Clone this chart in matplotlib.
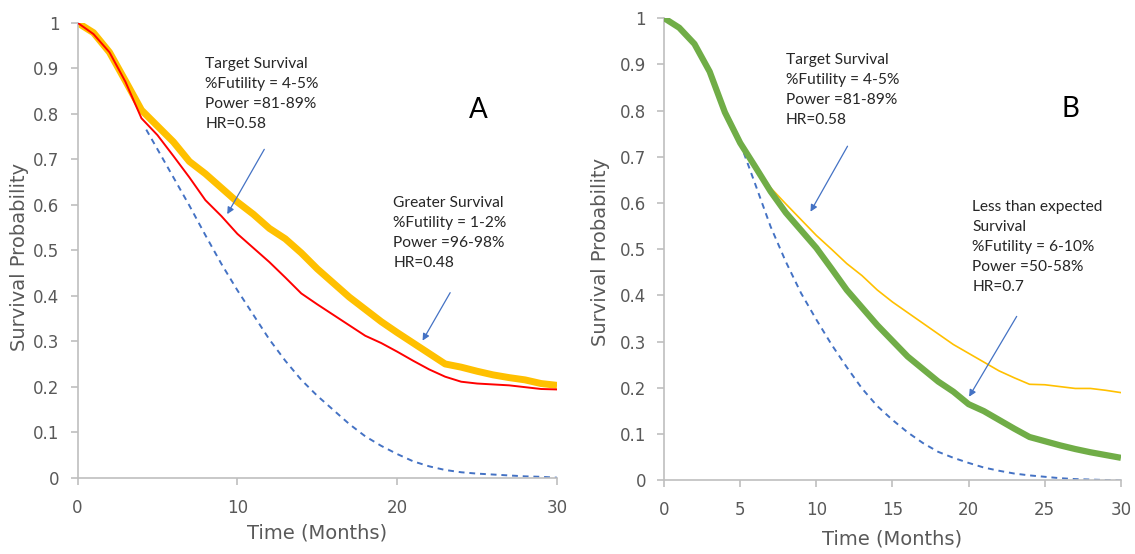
import numpy as np
import matplotlib.pyplot as plt

plt.rcParams['font.family'] = ['DejaVu Sans']

# ---- panel A data ----
t_a = np.arange(0, 31)
yellow_a = [1.0, 0.978, 0.935, 0.872, 0.808, 0.773, 0.738, 0.695, 0.668, 0.637,
            0.606, 0.579, 0.548, 0.525, 0.494, 0.459, 0.428, 0.397, 0.370, 0.343,
            0.319, 0.296, 0.273, 0.250, 0.243, 0.234, 0.226, 0.220, 0.215, 0.207, 0.203]
red_a = [1.0, 0.975, 0.935, 0.870, 0.790, 0.753, 0.707, 0.660, 0.610, 0.575,
         0.536, 0.505, 0.474, 0.440, 0.405, 0.381, 0.358, 0.335, 0.312, 0.296,
         0.277, 0.257, 0.238, 0.222, 0.211, 0.207, 0.205, 0.203, 0.199, 0.195, 0.194]
t_blue_a = [4.3] + list(range(5, 31))
blue_a = [0.765, 0.722, 0.660, 0.598, 0.533, 0.470, 0.412, 0.358, 0.304, 0.257,
          0.215, 0.180, 0.149, 0.118, 0.091, 0.070, 0.052, 0.036, 0.025, 0.017,
          0.012, 0.009, 0.007, 0.005, 0.003, 0.002, 0.0]

# ---- panel B data ----
t_b = np.arange(0, 31)
green_b = [1.0, 0.979, 0.944, 0.884, 0.796, 0.730, 0.678, 0.625, 0.579, 0.541,
           0.503, 0.458, 0.412, 0.374, 0.336, 0.302, 0.268, 0.241, 0.214, 0.192,
           0.165, 0.150, 0.131, 0.112, 0.094, 0.085, 0.076, 0.068, 0.061, 0.055, 0.049]
yellow_b = [1.0, 0.979, 0.944, 0.884, 0.796, 0.730, 0.680, 0.633, 0.598, 0.564,
            0.530, 0.500, 0.469, 0.443, 0.412, 0.386, 0.363, 0.340, 0.317, 0.294,
            0.275, 0.256, 0.237, 0.222, 0.208, 0.207, 0.203, 0.199, 0.199, 0.195, 0.190]
t_blue_b = list(range(5, 31))
blue_b = [0.730, 0.640, 0.549, 0.473, 0.405, 0.348, 0.294, 0.245, 0.199, 0.161,
          0.131, 0.104, 0.081, 0.062, 0.049, 0.038, 0.028, 0.021, 0.015, 0.011,
          0.008, 0.005, 0.003, 0.002, 0.001, 0.0]

y_ticks = [0, 0.1, 0.2, 0.3, 0.4, 0.5, 0.6, 0.7, 0.8, 0.9, 1]
y_ticklabels = ['0', '0.1', '0.2', '0.3', '0.4', '0.5', '0.6', '0.7', '0.8', '0.9', '1']

GOLD = '#FFC000'
BLUE = '#4472C4'
GREEN = '#70AD47'
GREY = '#595959'
AXGREY = '#BFBFBF'
NOTE_FONT = ['Lato', 'DejaVu Sans']

fig = plt.figure(figsize=(11.35, 5.54), dpi=100)
ax_a = fig.add_axes([0.0683, 0.1377, 0.4225, 0.8213])
ax_b = fig.add_axes([0.585, 0.1327, 0.4026, 0.8348])


def style_axes(ax, xticks):
    ax.set_xlim(0, 30)
    ax.set_ylim(0, 1)
    ax.set_xticks(xticks)
    ax.set_yticks(y_ticks)
    ax.set_yticklabels(y_ticklabels)
    for s in ['top', 'right']:
        ax.spines[s].set_visible(False)
    for s in ['left', 'bottom']:
        ax.spines[s].set_color(AXGREY)
        ax.spines[s].set_linewidth(1.2)
    ax.tick_params(colors=AXGREY, labelcolor=GREY, labelsize=12, length=5, width=1.2)
    ax.tick_params(axis='x', pad=10)
    ax.tick_params(axis='y', pad=8)
    ax.set_xlabel('Time (Months)', color=GREY, fontsize=14)
    ax.set_ylabel('Survival Probability', color=GREY, fontsize=14)


def note(ax, x, y, s):
    ax.text(x, y, s, fontsize=11.2, va='top', ha='left', linespacing=1.55,
            family=NOTE_FONT, color='#262626')


def arrow(ax, tip, tail):
    ax.annotate('', xy=tip, xytext=tail,
                arrowprops=dict(arrowstyle='-|>', color=BLUE, lw=0.9, mutation_scale=10))


# panel A
ax_a.plot(t_blue_a, blue_a, color=BLUE, lw=1.4, ls=(0, (3, 2.5)), zorder=1)
ax_a.plot(t_a, yellow_a, color=GOLD, lw=5, solid_capstyle='butt', zorder=2)
ax_a.plot(t_a, red_a, color='#FF0000', lw=1.4, zorder=3)
style_axes(ax_a, [0, 10, 20, 30])
ax_a.xaxis.set_label_coords(0.5, -0.1)
ax_a.yaxis.set_label_coords(-0.102, 0.485)

note(ax_a, 8.0, 0.925, 'Target Survival\n%Futility = 4-5%\nPower =81-89%\nHR=0.58')
arrow(ax_a, (9.28, 0.574), (11.77, 0.727))
note(ax_a, 19.75, 0.62, 'Greater Survival\n%Futility = 1-2%\nPower =96-98%\nHR=0.48')
arrow(ax_a, (21.5, 0.296), (23.4, 0.412))
ax_a.text(25.1, 0.808, 'A', fontsize=20, ha='center', va='center', family=NOTE_FONT)

# panel B
ax_b.plot(t_blue_b, blue_b, color=BLUE, lw=1.4, ls=(0, (3, 2.5)), zorder=1)
ax_b.plot(t_b, yellow_b, color=GOLD, lw=1.2, zorder=2)
ax_b.plot(t_b, green_b, color=GREEN, lw=4.5, solid_capstyle='butt', zorder=3)
style_axes(ax_b, [0, 5, 10, 15, 20, 25, 30])
ax_b.xaxis.set_label_coords(0.5, -0.107)
ax_b.yaxis.set_label_coords(-0.119, 0.494)

note(ax_b, 8.0, 0.925, 'Target Survival\n%Futility = 4-5%\nPower =81-89%\nHR=0.58')
arrow(ax_b, (9.53, 0.576), (12.14, 0.728))
note(ax_b, 20.25, 0.607, 'Less than expected\nSurvival\n%Futility = 6-10%\nPower =50-58%\nHR=0.7')
arrow(ax_b, (19.94, 0.176), (23.25, 0.360))
ax_b.text(26.7, 0.804, 'B', fontsize=20, ha='center', va='center', family=NOTE_FONT)

fig.savefig('out.png', dpi=100)
